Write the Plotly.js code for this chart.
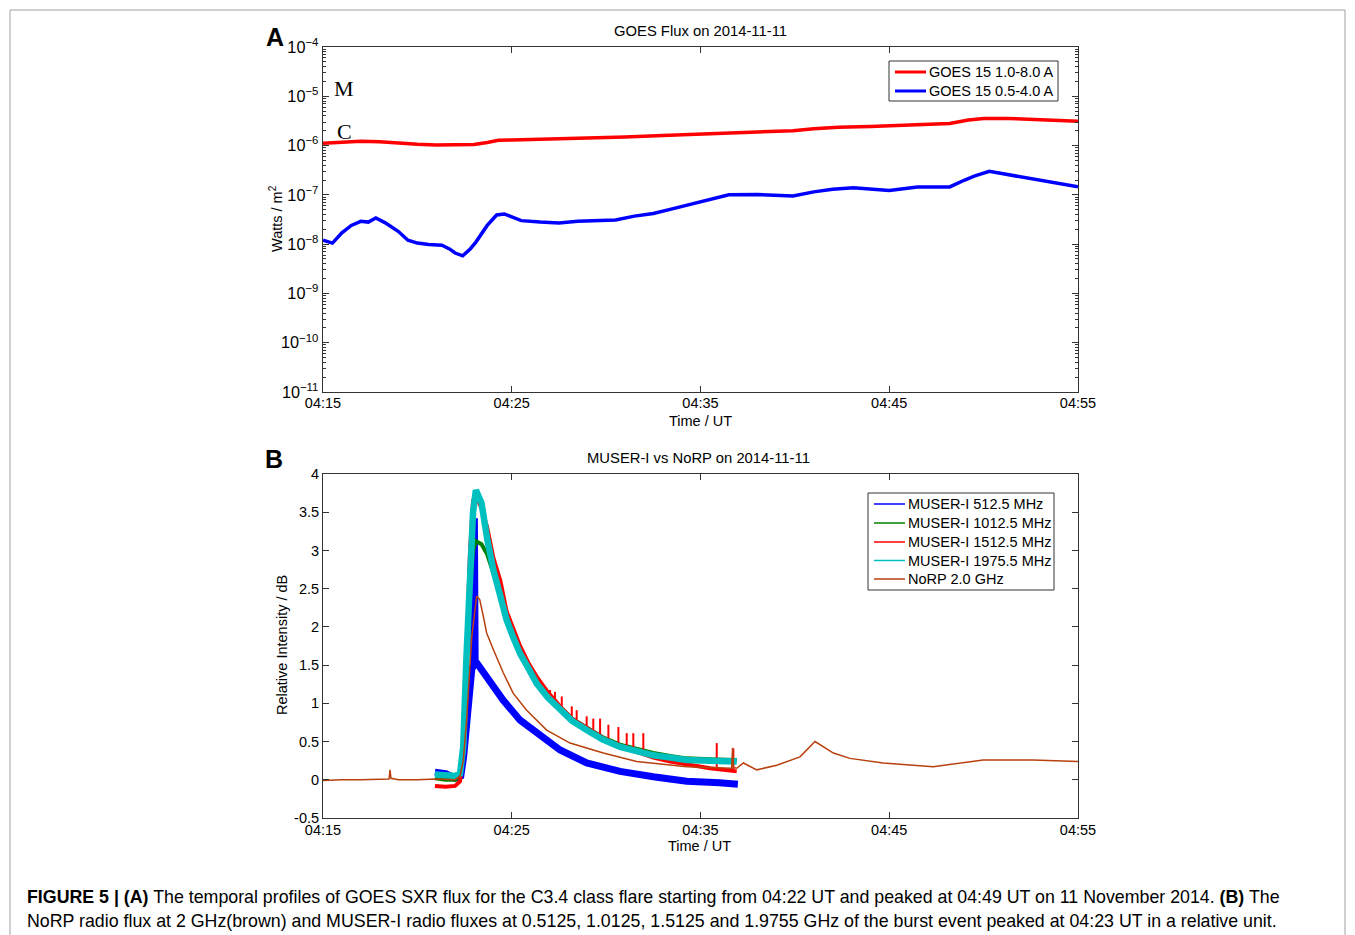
<!DOCTYPE html>
<html>
<head>
<meta charset="utf-8">
<script src="https://cdn.plot.ly/plotly-3.0.1.min.js"></script>
<style>
html,body{margin:0;padding:0;background:#fff;}
#chart{width:1355px;height:935px;}
</style>
</head>
<body>
<div id="chart"></div>
<script>
// ---------- DATA (time in minutes after 04:00 UT, 2014-11-11) ----------
// Panel A: GOES 15 X-ray flux (W/m^2)
const goesLongT = [15, 16, 17, 18, 19, 20, 21, 22, 23, 23.7, 24.3, 25, 27, 29, 31, 33, 35, 37, 39.9, 41, 42.3, 44, 46, 48.2, 49.2, 50, 51.3, 53, 55];
const goesLongV = [1.12e-6, 1.18e-6, 1.22e-6, 1.2e-6, 1.12e-6, 1.06e-6, 1.03e-6, 1.02e-6, 1.05e-6, 1.15e-6, 1.28e-6, 1.3e-6, 1.35e-6, 1.42e-6, 1.5e-6, 1.6e-6, 1.72e-6, 1.85e-6, 2.0e-6, 2.2e-6, 2.35e-6, 2.45e-6, 2.6e-6, 2.8e-6, 3.3e-6, 3.55e-6, 3.55e-6, 3.3e-6, 3.1e-6];
const goesShortT = [15, 15.5, 16, 16.5, 17, 17.4, 17.8, 18.3, 19, 19.5, 20, 20.6, 21.3, 21.7, 22, 22.4, 22.8, 23.1, 23.7, 24.2, 24.6, 25, 25.5, 26.5, 27.5, 28.5, 29.5, 30.5, 31.5, 32.5, 33.5, 34.5, 35.5, 36.5, 38, 39.9, 41, 42, 43.1, 44, 45, 46.5, 48.2, 49, 49.5, 50.3, 51, 52.3, 53.5, 55];
const goesShortV = [1.2e-8, 1.05e-8, 1.7e-8, 2.4e-8, 2.9e-8, 2.8e-8, 3.4e-8, 2.7e-8, 1.8e-8, 1.2e-8, 1.05e-8, 9.8e-9, 9.5e-9, 8e-9, 6.6e-9, 5.8e-9, 8e-9, 1.1e-8, 2.4e-8, 3.9e-8, 4.1e-8, 3.5e-8, 3.0e-8, 2.8e-8, 2.7e-8, 2.9e-8, 3.0e-8, 3.1e-8, 3.7e-8, 4.2e-8, 5.2e-8, 6.5e-8, 8e-8, 1.0e-7, 1.02e-7, 9.5e-8, 1.15e-7, 1.3e-7, 1.4e-7, 1.3e-7, 1.22e-7, 1.45e-7, 1.45e-7, 2.0e-7, 2.4e-7, 3.0e-7, 2.7e-7, 2.15e-7, 1.8e-7, 1.45e-7];

// Panel B: relative intensity (dB)
const mus512T = [20.93, 21.5, 22.0, 22.3, 22.45, 22.61, 22.88, 22.98, 23.02, 23.06, 23.14, 23.67, 24.55, 25.44, 26.32, 27.56, 28.97, 30.74, 32.5, 34.27, 36.0, 36.98];
const mus512V = [0.1, 0.08, 0.02, 0.05, 0.3, 0.74, 1.44, 1.5, 3.42, 1.55, 1.53, 1.35, 1.04, 0.78, 0.61, 0.39, 0.22, 0.11, 0.04, -0.02, -0.04, -0.06];

const musT = [20.93, 21.5, 22.0, 22.26, 22.43, 22.6, 22.79, 22.95, 23.1, 23.4, 23.7, 24.03, 24.4, 24.73, 25.1, 25.44, 25.9, 26.32, 26.9, 27.56, 28.2, 28.97, 29.8, 30.74, 31.6, 32.5, 33.4, 34.27, 35.5, 36.92];
const mus1012V = [0.02, 0.0, 0.0, 0.05, 0.45, 1.5, 2.5, 3.0, 3.12, 3.08, 2.95, 2.7, 2.42, 2.15, 1.92, 1.72, 1.5, 1.32, 1.13, 0.95, 0.8, 0.68, 0.56, 0.46, 0.4, 0.35, 0.31, 0.28, 0.27, 0.26];
const mus1512V = [-0.08, -0.09, -0.08, -0.02, 0.4, 1.7, 3.0, 3.65, 3.72, 3.55, 3.3, 2.9, 2.6, 2.2, 1.95, 1.75, 1.52, 1.35, 1.15, 0.96, 0.8, 0.68, 0.55, 0.44, 0.36, 0.29, 0.24, 0.2, 0.15, 0.11];
const mus1975V = [0.07, 0.05, 0.05, 0.08, 0.43, 1.6, 2.74, 3.5, 3.79, 3.62, 3.15, 2.74, 2.4, 2.09, 1.85, 1.65, 1.45, 1.26, 1.08, 0.91, 0.77, 0.65, 0.53, 0.43, 0.37, 0.32, 0.29, 0.26, 0.25, 0.24];

// spikes in the 1512.5 MHz series
const spikeT = [27.03, 27.29, 27.65, 28.18, 28.44, 28.97, 29.32, 29.68, 30.12, 30.65, 31.09, 31.44, 31.97, 35.86, 36.74];
const spikeLow = [1.02, 0.98, 0.93, 0.83, 0.79, 0.68, 0.63, 0.58, 0.52, 0.45, 0.41, 0.38, 0.34, 0.15, 0.12];
const spikeHigh = [1.175, 1.15, 1.09, 0.96, 0.91, 0.83, 0.80, 0.80, 0.72, 0.69, 0.61, 0.61, 0.61, 0.48, 0.41];

const norpT = [15, 16, 17, 18, 18.5, 18.55, 18.6, 19, 20, 21, 22, 22.26, 22.43, 22.61, 22.88, 23.14, 23.3, 23.5, 23.67, 24.03, 24.55, 25.08, 25.79, 26.85, 28.09, 29.85, 31.62, 34.27, 36.65, 36.7, 36.75, 36.92, 37.27, 37.98, 39.04, 40.27, 41.07, 42.04, 42.92, 44.68, 47.33, 49.98, 52.6, 55];
const norpV = [-0.01, 0.0, 0.0, 0.01, 0.01, 0.13, 0.02, 0.0, 0.0, 0.01, 0.0, 0.05, 0.25, 0.78, 1.87, 2.4, 2.36, 2.13, 1.92, 1.7, 1.4, 1.13, 0.91, 0.65, 0.48, 0.35, 0.24, 0.17, 0.15, 0.42, 0.16, 0.15, 0.22, 0.13, 0.19, 0.30, 0.50, 0.35, 0.28, 0.22, 0.17, 0.26, 0.26, 0.24];

const xTickText = ['04:15', '04:25', '04:35', '04:45', '04:55'];
const seriesNamesA = ['GOES 15 1.0-8.0 A', 'GOES 15 0.5-4.0 A'];
const seriesColorsA = ['#ff0000', '#0000ff'];
const seriesNamesB = ['MUSER-I 512.5 MHz', 'MUSER-I 1012.5 MHz', 'MUSER-I 1512.5 MHz', 'MUSER-I 1975.5 MHz', 'NoRP 2.0 GHz'];
const seriesColorsB = ['#0000ff', '#008000', '#ff0000', '#00bfbf', '#b8400c'];

// ---------- helpers ----------
function ts(m) {
  const mm = Math.floor(m);
  const s = (m - mm) * 60;
  return '2014-11-11 04:' + String(mm).padStart(2, '0') + ':' + s.toFixed(2).padStart(5, '0');
}
const tt = arr => arr.map(ts);

const W = 1355, H = 935;
const px = x => x / W;
const py = y => 1 - y / H;
const FS = 14.5;

const traces = [
  {x: tt(goesLongT), y: goesLongV, type: 'scatter', mode: 'lines', name: seriesNamesA[0],
   line: {color: seriesColorsA[0], width: 3.5}, xaxis: 'x', yaxis: 'y'},
  {x: tt(goesShortT), y: goesShortV, type: 'scatter', mode: 'lines', name: seriesNamesA[1],
   line: {color: seriesColorsA[1], width: 3.5}, xaxis: 'x', yaxis: 'y'},

  {x: tt(mus512T), y: mus512V, type: 'scatter', mode: 'lines', name: seriesNamesB[0],
   line: {color: seriesColorsB[0], width: 7}, xaxis: 'x2', yaxis: 'y2'},
  {x: tt(musT), y: mus1012V, type: 'scatter', mode: 'lines', name: seriesNamesB[1],
   line: {color: seriesColorsB[1], width: 4}, xaxis: 'x2', yaxis: 'y2'},
  {x: tt(musT), y: mus1512V, type: 'scatter', mode: 'lines', name: seriesNamesB[2],
   line: {color: seriesColorsB[2], width: 4}, xaxis: 'x2', yaxis: 'y2'},
  {x: (function(){const o=[];spikeT.forEach(t=>{o.push(ts(t),ts(t),null);});return o;})(),
   y: (function(){const o=[];spikeT.forEach((t,i)=>{o.push(spikeLow[i],spikeHigh[i],null);});return o;})(),
   type: 'scatter', mode: 'lines', name: seriesNamesB[2] + ' spikes', connectgaps: false,
   line: {color: seriesColorsB[2], width: 2}, xaxis: 'x2', yaxis: 'y2'},
  {x: tt(musT), y: mus1975V, type: 'scatter', mode: 'lines', name: seriesNamesB[3],
   line: {color: seriesColorsB[3], width: 6.5}, xaxis: 'x2', yaxis: 'y2'},
  {x: tt(norpT), y: norpV, type: 'scatter', mode: 'lines', name: seriesNamesB[4],
   line: {color: seriesColorsB[4], width: 1.5}, xaxis: 'x2', yaxis: 'y2'}
];

const axisCommon = {
  showline: true, linecolor: '#333', linewidth: 1, mirror: 'ticks',
  ticks: 'inside', ticklen: 6, tickcolor: '#333', showgrid: false, zeroline: false,
  tickfont: {family: 'Liberation Sans, Arial, sans-serif', size: FS, color: '#000'}
};
const xCommon = Object.assign({}, axisCommon, {
  type: 'date', range: [ts(15), ts(55)],
  tickmode: 'array', tickvals: tt([15, 25, 35, 45, 55]), ticktext: xTickText,
  domain: [px(323), px(1078)]
});

// ---------- hand-made legends (compact, like the original) ----------
const shapes = [
  {type: 'rect', xref: 'paper', yref: 'paper', x0: px(10), x1: px(1345), y0: -0.05, y1: py(10),
   line: {color: '#a0a0a0', width: 1}, fillcolor: 'rgba(0,0,0,0)', layer: 'below'}
];
const annotations = [];
function addLegend(names, colors, widths, box, rowY) {
  shapes.push({type: 'rect', xref: 'paper', yref: 'paper', x0: px(box.x0), x1: px(box.x1),
    y0: py(box.y1), y1: py(box.y0), line: {color: '#333', width: 1}, fillcolor: '#fff', layer: 'above'});
  names.forEach((n, i) => {
    const y = rowY[i];
    shapes.push({type: 'line', xref: 'paper', yref: 'paper', x0: px(box.x0 + 6), x1: px(box.x0 + 37),
      y0: py(y), y1: py(y), line: {color: colors[i], width: widths[i]}, layer: 'above'});
    annotations.push({text: n, x: px(box.x0 + 38), y: py(y), xref: 'paper', yref: 'paper', showarrow: false,
      xanchor: 'left', yanchor: 'middle', font: {size: FS, color: '#000'}});
  });
}
addLegend(seriesNamesA, seriesColorsA, [3, 3], {x0: 889, x1: 1058, y0: 61, y1: 101}, [72, 91]);
addLegend(seriesNamesB, seriesColorsB, [1.5, 1.5, 1.5, 1.5, 1.5], {x0: 868, x1: 1054, y0: 493, y1: 590},
  [504, 523, 542, 560.5, 579]);

annotations.push(
  {text: 'GOES Flux on 2014-11-11', x: px(700.5), y: py(31), xref: 'paper', yref: 'paper',
   showarrow: false, font: {size: 14.8}, xanchor: 'center', yanchor: 'middle'},
  {text: 'MUSER-I vs NoRP on 2014-11-11', x: px(698), y: py(458), xref: 'paper', yref: 'paper',
   showarrow: false, font: {size: 14.8}, xanchor: 'center', yanchor: 'middle'},
  {text: '<b>A</b>', x: px(275), y: py(37), xref: 'paper', yref: 'paper', showarrow: false,
   font: {size: 25}, xanchor: 'center', yanchor: 'middle'},
  {text: '<b>B</b>', x: px(274), y: py(459), xref: 'paper', yref: 'paper', showarrow: false,
   font: {size: 25}, xanchor: 'center', yanchor: 'middle'},
  {text: 'M', x: px(344), y: py(88), xref: 'paper', yref: 'paper', showarrow: false,
   font: {family: 'Liberation Serif, Times New Roman, serif', size: 22}, xanchor: 'center', yanchor: 'middle'},
  {text: 'C', x: px(344), y: py(131), xref: 'paper', yref: 'paper', showarrow: false,
   font: {family: 'Liberation Serif, Times New Roman, serif', size: 22}, xanchor: 'center', yanchor: 'middle'},
  {text: 'Time / UT', x: px(700.5), y: py(421), xref: 'paper', yref: 'paper', showarrow: false,
   font: {size: FS}, xanchor: 'center', yanchor: 'middle'},
  {text: 'Time / UT', x: px(699), y: py(846), xref: 'paper', yref: 'paper', showarrow: false,
   font: {size: FS}, xanchor: 'center', yanchor: 'middle'},
  {text: 'Watts / m<sup>2</sup>', x: px(276), y: py(219), xref: 'paper', yref: 'paper', showarrow: false,
   textangle: -90, font: {size: FS}, xanchor: 'center', yanchor: 'middle'},
  {text: 'Relative Intensity / dB', x: px(282), y: py(645), xref: 'paper', yref: 'paper', showarrow: false,
   textangle: -90, font: {size: FS}, xanchor: 'center', yanchor: 'middle'},
  {text: '<b>FIGURE 5 | (A)</b> The temporal profiles of GOES SXR flux for the C3.4 class flare starting from 04:22 UT and peaked at 04:49 UT on 11 November 2014. <b>(B)</b> The',
   x: px(25), y: py(897), xref: 'paper', yref: 'paper', showarrow: false,
   font: {size: 17.8}, xanchor: 'left', yanchor: 'middle', align: 'left'},
  {text: 'NoRP radio flux at 2 GHz(brown) and MUSER-I radio fluxes at 0.5125, 1.0125, 1.5125 and 1.9755 GHz of the burst event peaked at 04:23 UT in a relative unit.',
   x: px(25), y: py(921), xref: 'paper', yref: 'paper', showarrow: false,
   font: {size: 17.8}, xanchor: 'left', yanchor: 'middle', align: 'left'}
);

const layout = {
  width: W, height: H,
  margin: {l: 0, r: 0, t: 0, b: 0},
  paper_bgcolor: '#fff', plot_bgcolor: '#fff',
  font: {family: 'Liberation Sans, Arial, sans-serif', size: FS, color: '#000'},
  showlegend: false,
  xaxis: Object.assign({}, xCommon, {anchor: 'y', ticklabelstandoff: -2}),
  yaxis: Object.assign({}, axisCommon, {
    type: 'log', range: [-11, -4], dtick: 1, exponentformat: 'power',
    tickfont: {family: 'Liberation Sans, Arial, sans-serif', size: 13, color: '#000'},
    ticklabelstandoff: 1,
    domain: [py(392), py(47)], anchor: 'x',
    minor: {ticks: 'inside', ticklen: 3, tickcolor: '#333', dtick: 'D1', showgrid: false}
  }),
  xaxis2: Object.assign({}, xCommon, {anchor: 'y2', ticklabelstandoff: -1}),
  yaxis2: Object.assign({}, axisCommon, {
    range: [-0.5, 4], tickmode: 'array',
    tickvals: [-0.5, 0, 0.5, 1, 1.5, 2, 2.5, 3, 3.5, 4],
    ticktext: ['-0.5', '0', '0.5', '1', '1.5', '2', '2.5', '3', '3.5', '4'],
    domain: [py(818), py(474)], anchor: 'x2'
  }),
  shapes: shapes,
  annotations: annotations
};

Plotly.newPlot('chart', traces, layout, {staticPlot: true, displayModeBar: false});
</script>
</body>
</html>
